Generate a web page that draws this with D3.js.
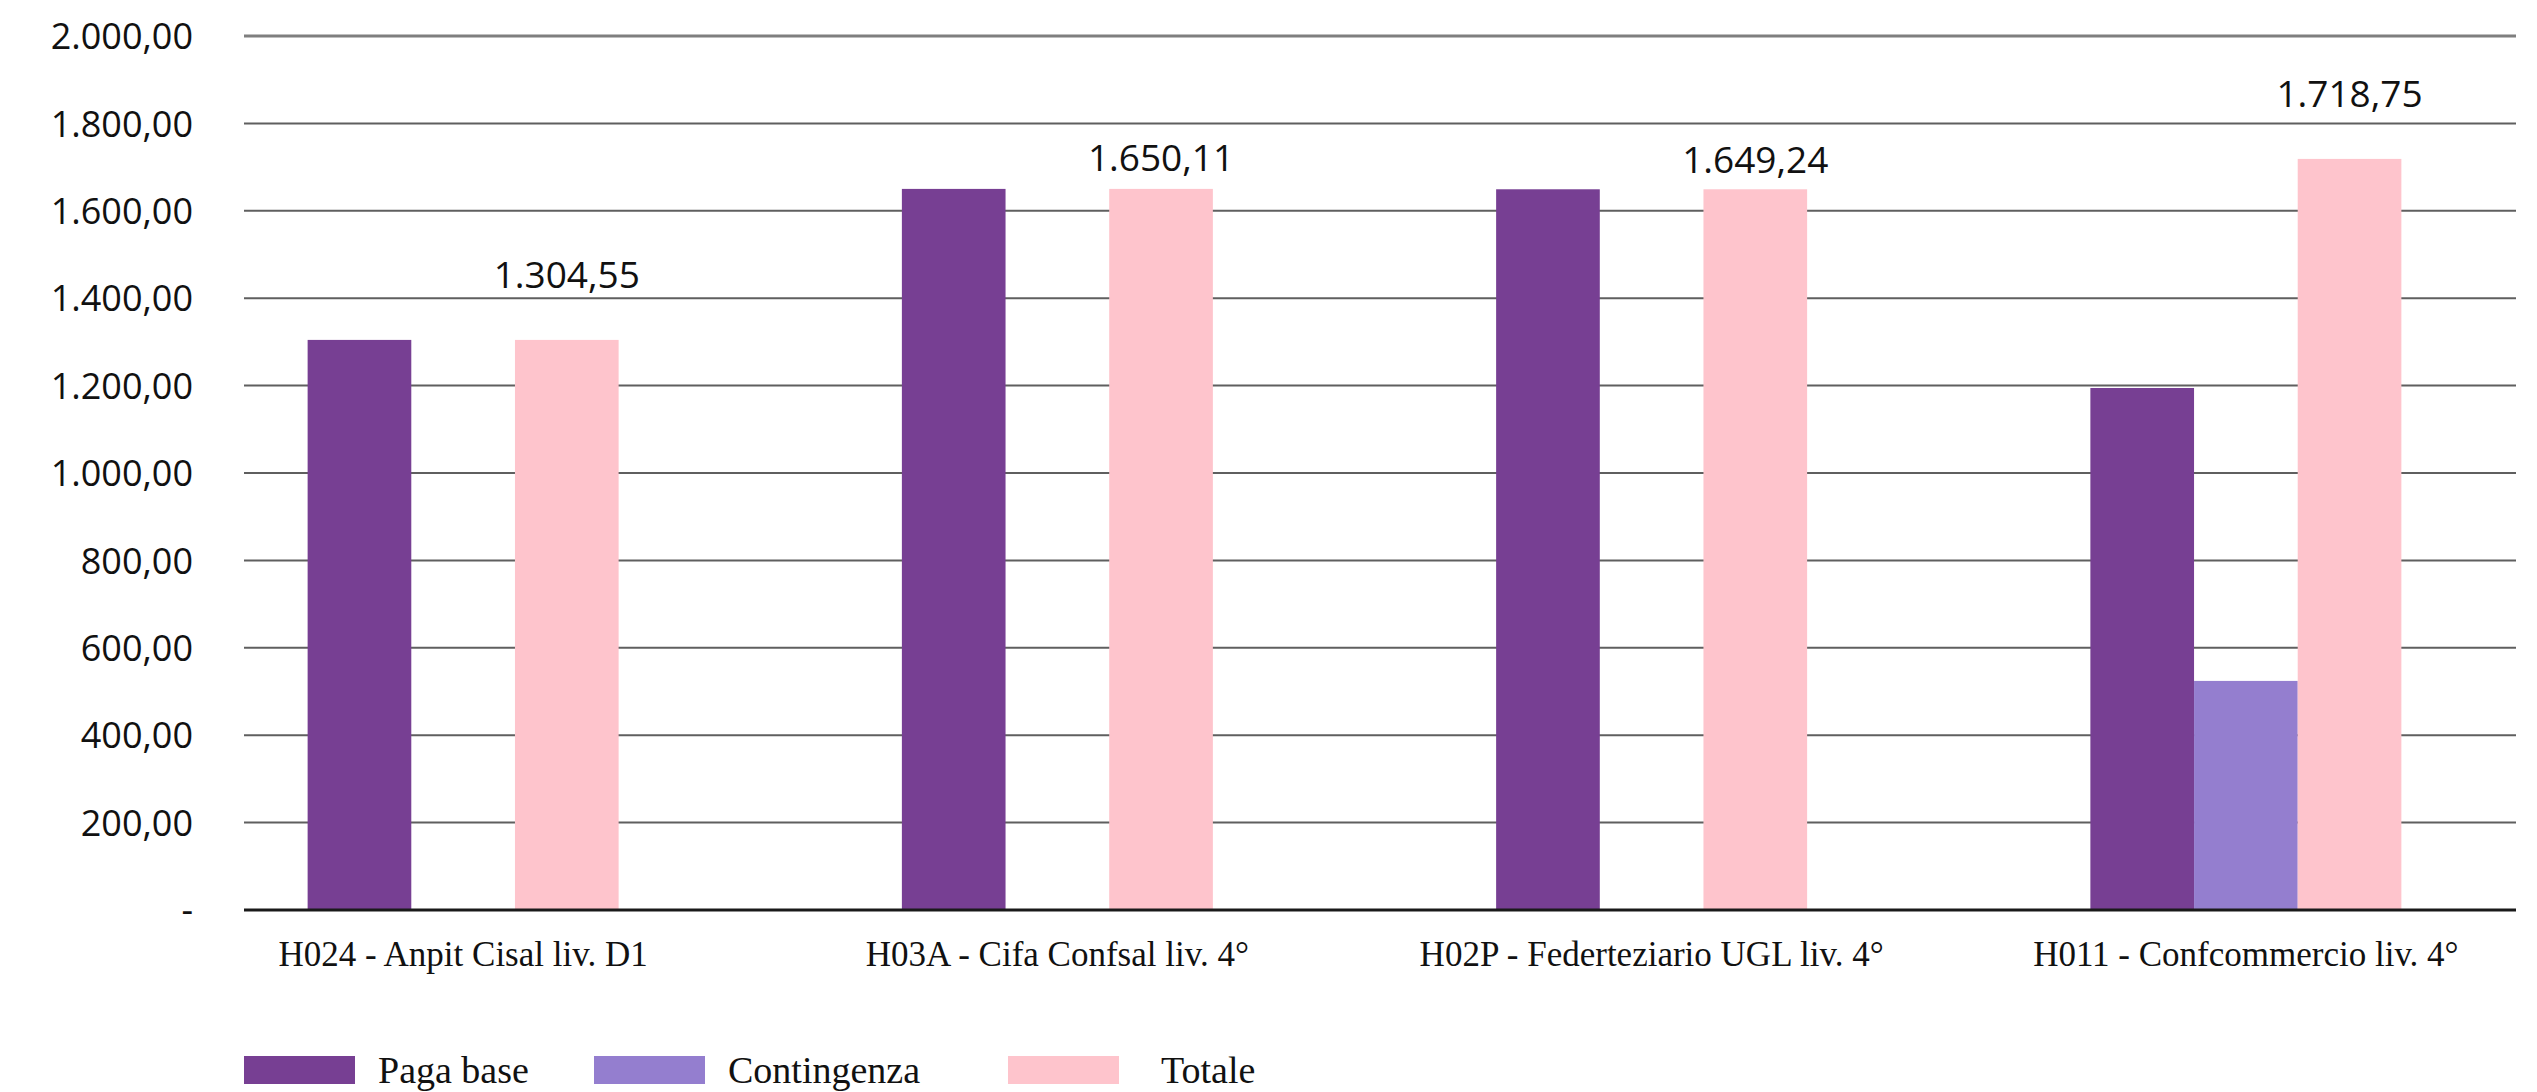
<!DOCTYPE html>
<html>
<head>
<meta charset="utf-8">
<script src="https://cdn.jsdelivr.net/npm/d3@7"></script>
<style>
  html, body { margin: 0; padding: 0; background: #ffffff; }
  svg { display: block; }
</style>
</head>
<body>
<svg id="chart" width="2537" height="1092"></svg>
<script>
// ---- data ----
const categories = [
  "H024 - Anpit Cisal liv. D1",
  "H03A - Cifa Confsal liv. 4°",
  "H02P - Federteziario UGL liv. 4°",
  "H011 - Confcommercio liv. 4°"
];
const series = ["Paga base", "Contingenza", "Totale"];
const pagaBase    = [1304.55, 1650.11, 1649.24, 1194.53];
const contingenza = [0, 0, 0, 524.22];
const totale      = [1304.55, 1650.11, 1649.24, 1718.75];
const yTicks = [0, 200, 400, 600, 800, 1000, 1200, 1400, 1600, 1800, 2000];

// ---- layout / style ----
const W = 2537, H = 1092;
const plot = { left: 244, right: 2516, top: 36, bottom: 910 };
const colors = { "Paga base": "#773F93", "Contingenza": "#947ECF", "Totale": "#FEC4CC" };
const labelLift = [52, 18, 16, 52];   // distance of value labels above bar tops
const legendX = [244, 594, 1008];
const legendTextGap = [23, 23, 42];

const svg = d3.select("#chart");

const it = d3.formatLocale({ decimal: ",", thousands: ".", grouping: [3], currency: ["", ""] });
const fmt = it.format(",.2f");
const tickFmt = v => v === 0 ? "-" : fmt(v);

const y = d3.scaleLinear().domain([0, 2000]).range([plot.bottom, plot.top]);
const x0 = d3.scaleBand().domain(categories).range([166, 2543]).padding(0);
const groupW = 311;
const x1 = d3.scaleBand().domain(series).range([0, groupW]).padding(0);
const groupOff = (x0.bandwidth() - groupW) / 2;

const rows = categories.map((c, i) => ({
  cat: c,
  vals: [
    { s: "Paga base", v: pagaBase[i] },
    { s: "Contingenza", v: contingenza[i] },
    { s: "Totale", v: totale[i] }
  ],
  tot: totale[i],
  i
}));

// gridlines
const grid = svg.append("g");
grid.selectAll("line").data(yTicks.filter(t => t > 0)).join("line")
  .attr("x1", plot.left).attr("x2", plot.right)
  .attr("y1", d => y(d)).attr("y2", d => y(d))
  .attr("stroke", d => d === 2000 ? "#7f7f7f" : "#5f5f5f")
  .attr("stroke-width", d => d === 2000 ? 3 : 2);

// y axis labels
const yAxis = d3.axisLeft(y).tickValues(yTicks).tickFormat(tickFmt).tickSize(0).tickPadding(0);
const ya = svg.append("g").attr("transform", `translate(193,0)`).call(yAxis);
ya.select(".domain").remove();
ya.selectAll("text")
  .attr("font-family", "'Open Sans', sans-serif")
  .attr("font-size", 36)
  .attr("fill", "#111")
  .attr("dy", "0.35em");

// bars
const groups = svg.append("g").selectAll("g").data(rows).join("g")
  .attr("transform", d => `translate(${x0(d.cat) + groupOff},0)`);
groups.selectAll("rect").data(d => d.vals.filter(v => v.v > 0)).join("rect")
  .attr("x", d => x1(d.s))
  .attr("width", x1.bandwidth())
  .attr("y", d => y(d.v))
  .attr("height", d => y(0) - y(d.v))
  .attr("fill", d => colors[d.s]);

// baseline
svg.append("line")
  .attr("x1", plot.left).attr("x2", plot.right)
  .attr("y1", y(0)).attr("y2", y(0))
  .attr("stroke", "#1a1a1a").attr("stroke-width", 3);

// value labels on Totale bars
svg.append("g").selectAll("text").data(rows).join("text")
  .attr("x", d => x0(d.cat) + groupOff + x1("Totale") + x1.bandwidth() / 2)
  .attr("y", d => y(d.tot) - labelLift[d.i])
  .attr("text-anchor", "middle")
  .attr("font-family", "'Open Sans', sans-serif")
  .attr("font-size", 37)
  .attr("fill", "#111")
  .text(d => fmt(d.tot));

// category labels
svg.append("g").selectAll("text").data(categories).join("text")
  .attr("x", d => x0(d) + x0.bandwidth() / 2)
  .attr("y", 966)
  .attr("text-anchor", "middle")
  .attr("font-family", "'Liberation Serif', serif")
  .attr("font-size", 35)
  .attr("fill", "#111")
  .text(d => d);

// legend
const lg = svg.append("g").selectAll("g").data(series).join("g")
  .attr("transform", (d, i) => `translate(${legendX[i]},1056)`);
lg.append("rect").attr("width", 111).attr("height", 28).attr("fill", d => colors[d]);
lg.append("text")
  .attr("x", (d, i) => 111 + legendTextGap[i])
  .attr("y", 27)
  .attr("font-family", "'Liberation Serif', serif")
  .attr("font-size", 38)
  .attr("fill", "#111")
  .text(d => d);
</script>
</body>
</html>
